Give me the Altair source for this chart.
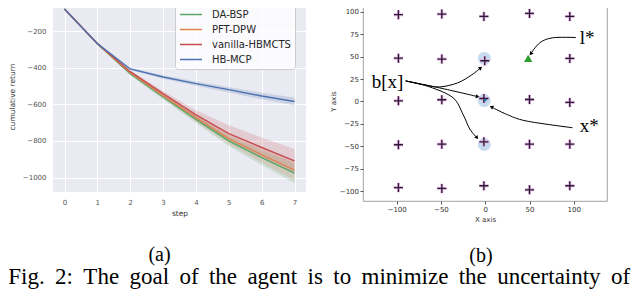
import altair as alt
import pandas as pd

# ---------------- panel (a) data ----------------
steps = [0, 1, 2, 3, 4, 5, 6, 7]
series_names = ["DA-BSP", "PFT-DPW", "vanilla-HBMCTS", "HB-MCP"]
series_colors = ["#55a868", "#dd8452", "#c44e52", "#4c72b0"]
da_bsp = [-80, -270, -433, -560, -682, -800, -891, -976]
pft_dpw = [-80, -270, -427, -553, -673, -787, -876, -960]
vanilla_hbmcts = [-80, -268, -422, -542, -658, -760, -836, -909]
hb_mcp = [-80, -269, -407, -451, -487, -520, -555, -585]
da_bsp_err = [0, 5, 8, 14, 20, 28, 40, 55]
pft_dpw_err = [0, 5, 8, 14, 22, 30, 42, 55]
vanilla_err = [0, 5, 8, 15, 25, 45, 55, 65]
hb_mcp_err = [0, 4, 6, 10, 12, 15, 18, 22]
y_ticks_a = [-1000, -800, -600, -400, -200]

# ---------------- panel (b) data ----------------
grid_x = [-98, -49, -1.5, 50, 95.5,
          -98, -49, -0.5, 95.5,
          -98, -49, -1.5, 50, 95.5,
          -98, -49, -1.5, 50, 95.5,
          -98, -49, -1.5, 50, 95.5]
grid_y = [96.7, 97.4, 94.8, 98.1, 94.8,
          48.3, 47.2, 45.4, 48.0,
          0.7, 1.9, 3.3, 2.2, -1.1,
          -48.3, -47.6, -45.0, -47.6, -47.6,
          -96.0, -97.0, -94.0, -98.5, -94.0]
belief_x = [-1, -1, -1]
belief_y = [48, 1, -48]
true_pos_x = [0]
true_pos_y = [1.5]
landmark_x = [48.5]
landmark_y = [47.9]
label_text = ["l*", "x*", "b[x]"]
label_x = [106.8, 106.8, -128.2]
label_y = [64.2, -34.1, 15.1]
arrow_id = ["l", "l", "l", "l",
            "x", "x", "x", "x",
            "b1", "b1", "b1", "b1", "b1", "b1",
            "b2", "b2", "b2",
            "b3", "b3", "b3", "b3", "b3", "b3"]
arrow_x = [102.3, 76.3, 61.6, 51.4,
           98.5, 46.5, 24.0, 7.0,
           -89.8, -68.4, -51.4, -31.1, -15.3, -5.1,
           -89.8, -51.4, -8.5,
           -89.8, -62.7, -36.4, -25.1, -17.5, -9.3]
arrow_y = [71.3, 71.0, 65.4, 53.1,
           -29.3, -21.8, -14.3, -6.1,
           22.9, 18.4, 16.2, 20.7, 29.6, 37.4,
           22.9, 15.1, 5.4,
           22.9, 16.2, 4.2, -14.3, -30.7, -40.4]
head_x = [51.4, 7.0, -5.1, -8.5, -9.3]
head_y = [53.1, -6.1, 37.4, 5.4, -40.4]
head_angle = [219, 296, 52, 103, 140]

caption_words = ["Fig.", "2:", "The", "goal", "of", "the", "agent", "is", "to",
                 "minimize", "the", "uncertainty", "of"]

# ---------------- build panel (a) ----------------
rows = []
for name, vals, errs in zip(series_names,
                            [da_bsp, pft_dpw, vanilla_hbmcts, hb_mcp],
                            [da_bsp_err, pft_dpw_err, vanilla_err, hb_mcp_err]):
    for s, v, e in zip(steps, vals, errs):
        rows.append({"series": name, "step": s, "mean": v, "lo": v - e, "hi": v + e})
df_a = pd.DataFrame(rows)

sx_a = alt.Scale(domain=[-0.35, 7.35], nice=False, zero=False)
sy_a = alt.Scale(domain=[-1079, -36], nice=False, zero=False)
axis_common_a = dict(grid=True, gridColor="white", gridWidth=1, domain=False, ticks=False,
                     labelFont="DejaVu Sans", labelFontSize=7, labelColor="#555",
                     titleFont="DejaVu Sans", titleFontSize=7.5, titleFontWeight="normal",
                     titleColor="#333")
x_a = alt.X("step:Q", scale=sx_a,
            axis=alt.Axis(values=steps, title="step", labelPadding=6, titlePadding=4,
                          format="d", **axis_common_a))
y_a_axis = alt.Axis(values=y_ticks_a, title="cumulative return", labelPadding=7,
                    titlePadding=6, format="d", **axis_common_a)
cs = alt.Scale(domain=series_names, range=series_colors)

bands = []
for name, col in zip(series_names, series_colors):
    bands.append(
        alt.Chart(df_a).transform_filter(alt.datum.series == name)
        .mark_area(opacity=0.2, color=col).encode(
            x=x_a,
            y=alt.Y("lo:Q", scale=sy_a, axis=y_a_axis),
            y2="hi:Q",
        )
    )
lines = alt.Chart(df_a).mark_line(strokeWidth=1.4).encode(
    x=x_a,
    y=alt.Y("mean:Q", scale=sy_a, axis=y_a_axis),
    color=alt.Color("series:N", scale=cs, sort=series_names,
                    legend=alt.Legend(title=None, orient="none", legendX=122, legendY=3,
                                      symbolType="M-1,0H3", symbolSize=121,
                                      symbolStrokeWidth=1.5, labelFont="DejaVu Sans",
                                      labelFontSize=10, labelColor="#262626",
                                      padding=4, rowPadding=3, labelOffset=20,
                                      fillColor="rgba(255,255,255,0.8)",
                                      strokeColor="#cccccc", cornerRadius=3)),
)
panel_a = alt.layer(*bands, lines).properties(
    width=253, height=191,
    view=alt.ViewBackground(fill="#eaeaf2", strokeWidth=0),
    title=alt.Title("(a)", orient="bottom", anchor="middle", frame="group",
                    font="Liberation Serif", fontSize=20, fontWeight="normal",
                    color="black", offset=28, dx=-20),
)

# ---------------- build panel (b) ----------------
sx_b = alt.Scale(domain=[-138, 137.5], nice=False, zero=False)
sy_b = alt.Scale(domain=[-111, 112], nice=False, zero=False)
axis_common_b = dict(grid=False, domain=False, ticks=True, tickSize=3, tickColor="#555",
                     labelFont="DejaVu Sans", labelFontSize=7, labelColor="#333",
                     labelPadding=1.5, titleFont="DejaVu Sans", titleFontSize=7,
                     titleFontWeight="normal", titleColor="#333", titlePadding=3)
x_b = alt.X("x:Q", scale=sx_b,
            axis=alt.Axis(values=[-100, -50, 0, 50, 100], title="X axis", format="d",
                          **axis_common_b))
y_b = alt.Y("y:Q", scale=sy_b,
            axis=alt.Axis(values=[-100, -75, -50, -25, 0, 25, 50, 75, 100], title="Y axis",
                          format="d", **axis_common_b))

df_grid = pd.DataFrame({"x": grid_x, "y": grid_y})
df_belief = pd.DataFrame({"x": belief_x, "y": belief_y})
df_true = pd.DataFrame({"x": true_pos_x, "y": true_pos_y})
df_land = pd.DataFrame({"x": landmark_x, "y": landmark_y})
df_lab = pd.DataFrame({"x": label_x, "y": label_y, "t": label_text})
df_arrow = pd.DataFrame({"id": arrow_id, "x": arrow_x, "y": arrow_y})
df_arrow["k"] = range(len(df_arrow))
df_head = pd.DataFrame({"x": head_x, "y": head_y, "a": head_angle})

plus = "M-1,0H1M0,-1V1"
belief = alt.Chart(df_belief).mark_circle(size=168, color="#c6dbef", opacity=1).encode(x=x_b, y=y_b)
halo = alt.Chart(df_grid).mark_point(shape=plus, size=90, strokeWidth=3, color="#e6b3e6",
                                     opacity=1, filled=False).encode(x=x_b, y=y_b)
cross = alt.Chart(df_grid).mark_point(shape=plus, size=81, strokeWidth=1.3, color="#2b1a33",
                                      opacity=1, filled=False).encode(x=x_b, y=y_b)
true_dot = alt.Chart(df_true).mark_circle(size=8, color="#1f77b4", opacity=1).encode(x=x_b, y=y_b)
land = alt.Chart(df_land).mark_point(shape="triangle-up", filled=True, size=70,
                                     color="#2ca02c", opacity=1).encode(x=x_b, y=y_b)
arrows = alt.Chart(df_arrow).mark_line(interpolate="cardinal", strokeWidth=1,
                                       color="black").encode(
    x=x_b, y=y_b, detail="id:N", order="k:Q")
heads = alt.Chart(df_head).mark_point(shape="triangle-up", filled=True, size=18,
                                      color="black", opacity=1).encode(
    x=x_b, y=y_b, angle=alt.Angle("a:Q", scale=None))
labels = alt.Chart(df_lab).mark_text(font="Liberation Serif", fontSize=19, align="left",
                                     baseline="alphabetic", color="black").encode(
    x=x_b, y=y_b, text="t:N")

panel_b = alt.layer(belief, halo, cross, true_dot, land, arrows, heads, labels).properties(
    width=244, height=200,
    view=alt.ViewBackground(fill="white", stroke="#8a8a8a", strokeWidth=0.8),
    title=alt.Title("(b)", orient="bottom", anchor="middle", frame="group",
                    font="Liberation Serif", fontSize=20, fontWeight="normal",
                    color="black", offset=23, dx=-4),
)

caption = " \u2009".join(caption_words)
chart = alt.hconcat(panel_a, panel_b, spacing=57, bounds="flush").properties(
    title=alt.Title(caption, orient="bottom", anchor="start", font="Liberation Serif",
                    fontSize=23, fontWeight="normal", color="black", offset=0),
    padding={"left": 0, "top": -8, "right": 0, "bottom": 0},
)

chart.save("out.html", embed_options={"renderer": "svg", "actions": False})
